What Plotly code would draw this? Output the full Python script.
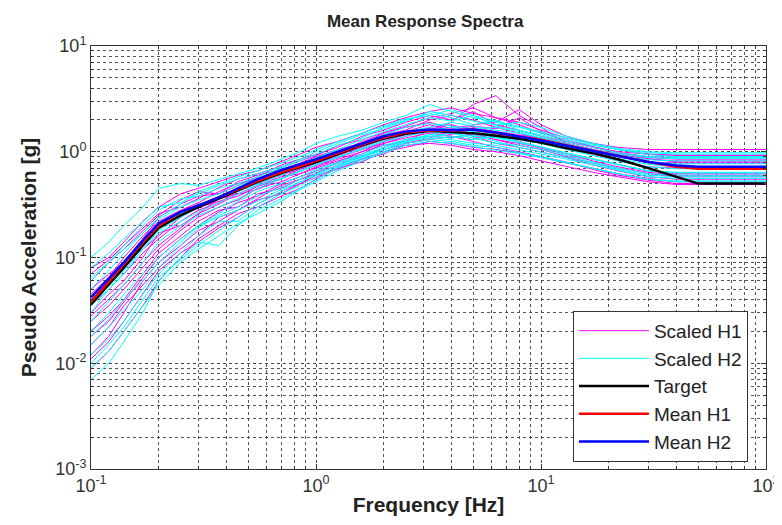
import plotly.graph_objects as go

freq = [0.1, 0.12, 0.14, 0.17, 0.2, 0.25, 0.3, 0.37, 0.45, 0.55, 0.7, 0.85, 1.0, 1.25, 1.6,
        2.0, 2.5, 3.2, 4.0, 5.0, 6.3, 8.0, 10, 13, 17, 22, 30, 40, 50, 100]

target = [0.036, 0.055, 0.08, 0.13, 0.19, 0.25, 0.30, 0.36, 0.43, 0.52, 0.63, 0.72, 0.80, 0.95, 1.15,
          1.33, 1.48, 1.58, 1.55, 1.50, 1.42, 1.33, 1.22, 1.08, 0.97, 0.85, 0.70, 0.58, 0.50, 0.50]
mean_h1 = [0.038, 0.06, 0.088, 0.14, 0.20, 0.27, 0.31, 0.37, 0.44, 0.53, 0.64, 0.73, 0.82, 0.97, 1.17,
           1.36, 1.52, 1.60, 1.58, 1.62, 1.50, 1.40, 1.30, 1.15, 1.02, 0.92, 0.80, 0.72, 0.69, 0.69]
mean_h2 = [0.042, 0.063, 0.09, 0.145, 0.21, 0.27, 0.31, 0.37, 0.45, 0.55, 0.67, 0.76, 0.85, 1.00, 1.20,
           1.40, 1.55, 1.62, 1.60, 1.62, 1.52, 1.40, 1.28, 1.14, 1.02, 0.92, 0.80, 0.74, 0.72, 0.72]

scaled_h1 = [
    [0.08, 0.10, 0.14, 0.22, 0.30, 0.40, 0.45, 0.52, 0.60, 0.66, 0.80, 0.95, 1.10, 1.25, 1.50, 1.80, 2.10, 2.40, 2.60, 2.30, 2.10, 1.90, 1.60, 1.35, 1.20, 1.10, 1.05, 1.05, 1.05, 1.05],
    [0.05, 0.07, 0.09, 0.12, 0.16, 0.24, 0.30, 0.34, 0.38, 0.47, 0.55, 0.70, 0.78, 0.90, 1.05, 1.20, 1.40, 1.60, 1.90, 2.80, 3.40, 2.20, 1.70, 1.20, 1.05, 0.95, 0.88, 0.85, 0.85, 0.85],
    [0.02, 0.028, 0.04, 0.07, 0.11, 0.16, 0.22, 0.28, 0.30, 0.40, 0.45, 0.55, 0.62, 0.75, 0.90, 1.10, 1.30, 1.40, 1.35, 1.50, 1.30, 1.15, 1.05, 0.90, 0.78, 0.70, 0.62, 0.58, 0.58, 0.58],
    [0.012, 0.018, 0.03, 0.06, 0.09, 0.13, 0.18, 0.22, 0.28, 0.35, 0.40, 0.50, 0.60, 0.68, 0.85, 0.95, 1.20, 1.30, 1.40, 1.25, 1.10, 1.00, 0.90, 0.80, 0.68, 0.60, 0.54, 0.50, 0.50, 0.50],
    [0.04, 0.06, 0.09, 0.15, 0.24, 0.32, 0.38, 0.40, 0.52, 0.60, 0.68, 0.78, 0.90, 1.05, 1.20, 1.50, 1.70, 1.90, 1.65, 1.80, 1.90, 2.50, 1.80, 1.40, 1.20, 1.05, 0.95, 0.92, 0.92, 0.92],
    [0.03, 0.045, 0.06, 0.10, 0.17, 0.20, 0.26, 0.32, 0.40, 0.48, 0.58, 0.62, 0.72, 0.85, 1.00, 1.25, 1.45, 1.70, 1.80, 1.60, 1.40, 1.30, 1.20, 1.10, 0.95, 0.82, 0.72, 0.70, 0.70, 0.70],
    [0.009, 0.013, 0.02, 0.035, 0.06, 0.10, 0.15, 0.20, 0.26, 0.30, 0.38, 0.45, 0.55, 0.70, 0.80, 1.00, 1.10, 1.25, 1.20, 1.10, 1.05, 0.98, 0.88, 0.78, 0.70, 0.62, 0.56, 0.52, 0.52, 0.52],
    [0.06, 0.09, 0.12, 0.18, 0.25, 0.35, 0.42, 0.40, 0.48, 0.58, 0.75, 0.85, 0.95, 1.10, 1.40, 1.60, 1.90, 2.20, 2.00, 2.40, 1.80, 1.60, 1.40, 1.25, 1.10, 0.98, 0.90, 0.88, 0.88, 0.88],
    [0.025, 0.035, 0.05, 0.08, 0.12, 0.18, 0.24, 0.30, 0.35, 0.45, 0.52, 0.62, 0.70, 0.82, 0.95, 1.20, 1.35, 1.50, 1.40, 1.30, 1.50, 1.25, 1.10, 0.95, 0.85, 0.76, 0.66, 0.62, 0.62, 0.62],
    [0.015, 0.022, 0.035, 0.055, 0.08, 0.12, 0.16, 0.24, 0.28, 0.36, 0.48, 0.55, 0.62, 0.80, 1.00, 1.15, 1.25, 1.60, 1.70, 1.40, 1.20, 1.10, 1.00, 0.88, 0.75, 0.66, 0.58, 0.55, 0.55, 0.55],
    [0.045, 0.065, 0.10, 0.16, 0.22, 0.28, 0.33, 0.42, 0.50, 0.55, 0.62, 0.75, 0.85, 0.98, 1.25, 1.45, 1.60, 2.00, 2.20, 2.00, 1.70, 1.50, 1.30, 1.15, 1.00, 0.90, 0.80, 0.78, 0.78, 0.78],
    [0.035, 0.05, 0.07, 0.11, 0.15, 0.22, 0.28, 0.33, 0.42, 0.50, 0.60, 0.68, 0.78, 0.92, 1.10, 1.30, 1.50, 1.55, 1.45, 1.70, 1.55, 1.45, 1.35, 1.20, 1.05, 0.95, 0.85, 0.82, 0.82, 0.82],
    [0.018, 0.025, 0.038, 0.065, 0.10, 0.15, 0.20, 0.27, 0.33, 0.38, 0.50, 0.58, 0.66, 0.78, 0.92, 1.05, 1.20, 1.35, 1.55, 1.45, 1.30, 1.20, 1.08, 0.95, 0.82, 0.72, 0.64, 0.60, 0.60, 0.60],
    [0.07, 0.095, 0.13, 0.19, 0.26, 0.30, 0.36, 0.46, 0.55, 0.62, 0.72, 0.82, 0.92, 1.15, 1.30, 1.50, 1.75, 2.10, 2.30, 2.60, 2.10, 1.80, 1.50, 1.30, 1.12, 1.00, 0.95, 0.93, 0.93, 0.93],
    [0.011, 0.016, 0.025, 0.045, 0.075, 0.11, 0.14, 0.19, 0.24, 0.32, 0.42, 0.50, 0.57, 0.72, 0.86, 1.00, 1.15, 1.20, 1.15, 1.05, 1.00, 0.92, 0.82, 0.72, 0.64, 0.58, 0.52, 0.49, 0.49, 0.49],
    [0.028, 0.04, 0.055, 0.09, 0.13, 0.19, 0.26, 0.36, 0.40, 0.44, 0.56, 0.66, 0.74, 0.88, 1.05, 1.25, 1.55, 1.80, 1.60, 1.75, 1.65, 2.10, 1.55, 1.25, 1.10, 0.98, 0.86, 0.80, 0.80, 0.80],
]

scaled_h2 = [
    [0.10, 0.14, 0.20, 0.30, 0.45, 0.50, 0.48, 0.55, 0.62, 0.70, 0.85, 1.00, 1.20, 1.40, 1.60, 1.90, 2.20, 2.80, 2.40, 2.10, 1.90, 1.70, 1.50, 1.30, 1.15, 1.05, 0.98, 0.95, 0.95, 0.95],
    [0.007, 0.010, 0.016, 0.03, 0.06, 0.10, 0.14, 0.13, 0.20, 0.28, 0.36, 0.45, 0.55, 0.70, 0.85, 1.00, 1.20, 1.30, 1.25, 1.15, 1.10, 0.98, 0.90, 0.80, 0.70, 0.62, 0.55, 0.52, 0.52, 0.52],
    [0.06, 0.09, 0.13, 0.20, 0.28, 0.36, 0.38, 0.45, 0.50, 0.58, 0.70, 0.82, 0.95, 1.15, 1.35, 1.70, 2.00, 2.30, 2.10, 1.80, 2.00, 1.60, 1.40, 1.20, 1.05, 0.95, 0.88, 0.86, 0.86, 0.86],
    [0.02, 0.03, 0.045, 0.07, 0.10, 0.15, 0.20, 0.26, 0.34, 0.42, 0.50, 0.58, 0.68, 0.80, 0.95, 1.15, 1.30, 1.45, 1.60, 1.50, 1.35, 1.20, 1.10, 0.95, 0.85, 0.75, 0.66, 0.63, 0.63, 0.63],
    [0.03, 0.05, 0.07, 0.12, 0.18, 0.24, 0.30, 0.38, 0.44, 0.52, 0.62, 0.70, 0.82, 0.95, 1.15, 1.35, 1.55, 1.70, 1.90, 1.75, 1.60, 1.50, 1.35, 1.15, 1.00, 0.90, 0.80, 0.77, 0.77, 0.77],
    [0.012, 0.017, 0.025, 0.045, 0.07, 0.11, 0.16, 0.22, 0.22, 0.30, 0.40, 0.48, 0.58, 0.72, 0.88, 1.05, 1.25, 1.40, 1.35, 1.45, 1.25, 1.10, 1.00, 0.88, 0.78, 0.68, 0.60, 0.58, 0.58, 0.58],
    [0.05, 0.075, 0.11, 0.17, 0.23, 0.30, 0.35, 0.40, 0.48, 0.56, 0.66, 0.76, 0.88, 1.05, 1.30, 1.55, 1.80, 2.10, 1.95, 2.20, 1.75, 1.60, 1.45, 1.25, 1.10, 0.98, 0.90, 0.88, 0.88, 0.88],
    [0.025, 0.038, 0.055, 0.09, 0.14, 0.20, 0.25, 0.30, 0.36, 0.45, 0.55, 0.65, 0.75, 0.90, 1.05, 1.25, 1.40, 1.55, 1.50, 1.40, 1.35, 1.30, 1.20, 1.05, 0.92, 0.82, 0.72, 0.69, 0.69, 0.69],
    [0.08, 0.11, 0.15, 0.22, 0.30, 0.33, 0.40, 0.48, 0.55, 0.62, 0.72, 0.85, 1.00, 1.20, 1.45, 1.65, 1.95, 2.40, 2.20, 1.95, 1.80, 1.90, 1.70, 1.40, 1.20, 1.08, 1.00, 0.98, 0.98, 0.98],
    [0.015, 0.022, 0.032, 0.05, 0.08, 0.13, 0.19, 0.25, 0.30, 0.38, 0.46, 0.55, 0.65, 0.78, 0.92, 1.10, 1.30, 1.40, 1.50, 1.35, 1.20, 1.15, 1.05, 0.92, 0.80, 0.70, 0.62, 0.60, 0.60, 0.60],
    [0.04, 0.06, 0.085, 0.14, 0.20, 0.26, 0.32, 0.36, 0.42, 0.50, 0.60, 0.72, 0.85, 1.00, 1.20, 1.45, 1.70, 1.85, 1.75, 1.65, 1.70, 1.55, 1.35, 1.18, 1.02, 0.92, 0.84, 0.82, 0.82, 0.82],
    [0.01, 0.015, 0.022, 0.04, 0.065, 0.095, 0.13, 0.18, 0.24, 0.32, 0.42, 0.52, 0.60, 0.75, 0.90, 1.10, 1.25, 1.35, 1.30, 1.20, 1.15, 1.05, 0.95, 0.85, 0.75, 0.66, 0.58, 0.56, 0.56, 0.56],
    [0.035, 0.05, 0.075, 0.12, 0.17, 0.22, 0.27, 0.33, 0.40, 0.48, 0.56, 0.66, 0.76, 0.88, 1.08, 1.30, 1.48, 1.60, 1.70, 1.55, 1.45, 1.40, 1.25, 1.10, 0.96, 0.86, 0.76, 0.72, 0.72, 0.72],
    [0.009, 0.013, 0.02, 0.035, 0.055, 0.09, 0.12, 0.16, 0.21, 0.26, 0.34, 0.44, 0.52, 0.66, 0.82, 0.98, 1.15, 1.25, 1.20, 1.12, 1.05, 0.96, 0.88, 0.78, 0.70, 0.62, 0.55, 0.53, 0.53, 0.53],
    [0.065, 0.09, 0.12, 0.17, 0.24, 0.32, 0.42, 0.50, 0.58, 0.66, 0.78, 0.90, 1.05, 1.25, 1.50, 1.75, 2.05, 2.20, 2.50, 2.20, 1.95, 1.75, 1.55, 1.35, 1.18, 1.05, 0.94, 0.90, 0.90, 0.90],
    [0.018, 0.026, 0.04, 0.06, 0.09, 0.14, 0.20, 0.24, 0.28, 0.34, 0.44, 0.52, 0.62, 0.74, 0.90, 1.05, 1.22, 1.45, 1.40, 1.30, 1.40, 1.25, 1.12, 0.98, 0.86, 0.76, 0.66, 0.64, 0.64, 0.64],
]

x_tickvals = [0.1, 1, 10, 100]
x_ticktext = ["10<sup>-1</sup>", "10<sup>0</sup>", "10<sup>1</sup>", "10<sup>2</sup>"]
y_tickvals = [0.001, 0.01, 0.1, 1, 10]
y_ticktext = ["10<sup>-3</sup>", "10<sup>-2</sup>", "10<sup>-1</sup>", "10<sup>0</sup>", "10<sup>1</sup>"]

fig = go.Figure()

# scaled records, one legend entry per component
for i, rec in enumerate(scaled_h1):
    fig.add_trace(go.Scatter(x=freq, y=rec, mode="lines", line=dict(color="#ff00ff", width=1),
                             name="Scaled H1", legendgroup="h1", showlegend=(i == 0)))
for i, rec in enumerate(scaled_h2):
    fig.add_trace(go.Scatter(x=freq, y=rec, mode="lines", line=dict(color="#00ffff", width=1),
                             name="Scaled H2", legendgroup="h2", showlegend=(i == 0)))

fig.add_trace(go.Scatter(x=freq, y=target, mode="lines", line=dict(color="black", width=2.5), name="Target"))
fig.add_trace(go.Scatter(x=freq, y=mean_h1, mode="lines", line=dict(color="red", width=2.5), name="Mean H1"))
fig.add_trace(go.Scatter(x=freq, y=mean_h2, mode="lines", line=dict(color="blue", width=2.5), name="Mean H2"))

grid_style = dict(showgrid=True, gridcolor="#444444", griddash="dot", gridwidth=1)
tick_font = dict(family="Arial", size=18, color="#333333")
title_font = dict(family="Arial", size=21, color="#222222")

fig.update_xaxes(type="log", range=[-1, 2], tickvals=x_tickvals, ticktext=x_ticktext,
                 automargin=False,
                 showline=True, linecolor="#333333", linewidth=1, mirror="allticks",
                 ticks="inside", ticklen=5, tickcolor="#333333",
                 minor=dict(dtick="D1", showgrid=True, gridcolor="#555555", griddash="dot",
                            ticks="inside", ticklen=3, tickcolor="#333333"),
                 tickfont=tick_font,
                 title=dict(text="<b>Frequency [Hz]</b>", font=title_font, standoff=2),
                 zeroline=False, **grid_style)
fig.update_yaxes(type="log", range=[-3, 1], tickvals=y_tickvals, ticktext=y_ticktext,
                 automargin=False,
                 showline=True, linecolor="#333333", linewidth=1, mirror="allticks",
                 ticks="inside", ticklen=5, tickcolor="#333333",
                 minor=dict(dtick="D1", showgrid=True, gridcolor="#555555", griddash="dot",
                            ticks="inside", ticklen=3, tickcolor="#333333"),
                 tickfont=tick_font,
                 title=dict(text="<b>Pseudo Acceleration [g]</b>", font=title_font, standoff=12),
                 zeroline=False, **grid_style)

# the page body has an 8px margin, so the figure is 8px smaller on each axis
fig.update_layout(
    width=774, height=517,
    margin=dict(l=83, r=16, t=38, b=56, autoexpand=False),
    paper_bgcolor="white", plot_bgcolor="white",
    title=dict(text="<b>Mean Response Spectra</b>", x=0.539, xanchor="center", y=0.975, yanchor="middle",
               font=dict(family="Arial", size=17, color="#222222")),
    legend=dict(x=0.714, y=0.017, xanchor="left", yanchor="bottom", bgcolor="white",
                bordercolor="#333333", borderwidth=1, font=dict(family="Arial", size=19, color="#222222"),
                itemwidth=70, tracegroupgap=0),
    showlegend=True,
)

fig.write_html("out.html")
